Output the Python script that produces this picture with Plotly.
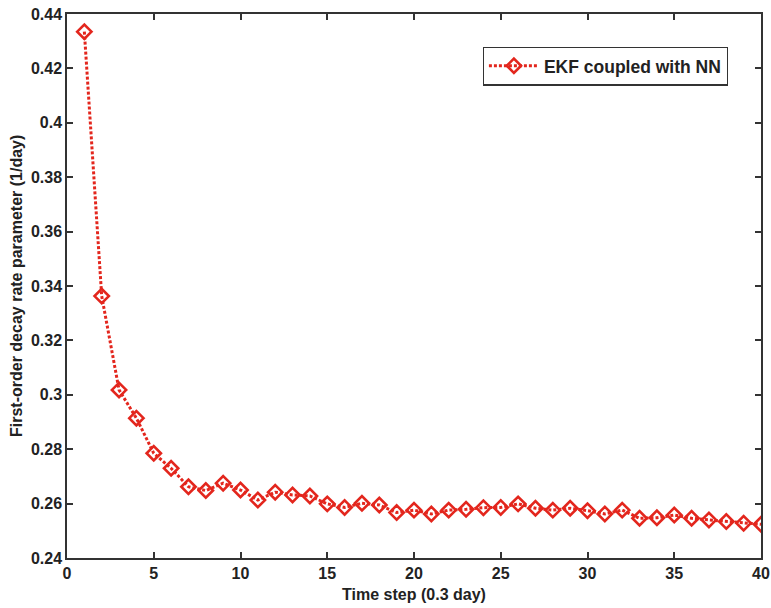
import plotly.graph_objects as go

time_step = list(range(1, 41))
decay_rate = [0.4335, 0.3363, 0.3018, 0.2914, 0.2785, 0.2730, 0.2662, 0.2648, 0.2675, 0.2650,
              0.2613, 0.2642, 0.2632, 0.2628, 0.2599, 0.2586, 0.2601, 0.2595, 0.2567, 0.2576,
              0.2562, 0.2576, 0.2579, 0.2585, 0.2586, 0.2599, 0.2583, 0.2576, 0.2583, 0.2574,
              0.2562, 0.2576, 0.2546, 0.2548, 0.2558, 0.2546, 0.2540, 0.2534, 0.2528, 0.2524]

x_ticks = [0, 5, 10, 15, 20, 25, 30, 35, 40]
y_ticks = [0.24, 0.26, 0.28, 0.30, 0.32, 0.34, 0.36, 0.38, 0.40, 0.42, 0.44]
y_tick_labels = ["0.24", "0.26", "0.28", "0.3", "0.32", "0.34", "0.36", "0.38", "0.4", "0.42", "0.44"]

red = "#e3261d"
font_fam = "Liberation Sans, Arial, sans-serif"

fig = go.Figure()
fig.add_trace(go.Scatter(
    x=time_step, y=decay_rate, mode="lines+markers", name="<b>EKF coupled with NN</b>",
    line=dict(color=red, width=3, dash="3px,2px"),
    marker=dict(symbol="diamond-open", size=11, color=red, line=dict(color=red, width=2.6)),
))

axis_common = dict(showline=True, linecolor="#333333", linewidth=1.5, mirror="ticks",
                   ticks="inside", ticklen=6, tickcolor="#333333", tickwidth=1.5,
                   showgrid=False, zeroline=False, automargin=False,
                   tickfont=dict(family=font_fam, size=16, color="#222222"))

fig.update_layout(
    width=771, height=608,
    margin=dict(l=67, r=10, t=14, b=50),
    paper_bgcolor="white", plot_bgcolor="white",
    font=dict(family=font_fam, color="#222222"),
    xaxis=dict(range=[0, 40], tickvals=x_ticks, ticktext=[f"<b>{v}</b>" for v in x_ticks],
               title=dict(text="<b>Time step (0.3 day)</b>", font=dict(size=16), standoff=8),
               **axis_common),
    yaxis=dict(range=[0.24, 0.44], tickvals=y_ticks, ticktext=[f"<b>{t}</b>" for t in y_tick_labels],
               **axis_common),
    legend=dict(x=0.599, y=0.940, xanchor="left", yanchor="top", bordercolor="#333333", borderwidth=1.2,
                bgcolor="white", itemwidth=50,
                font=dict(size=17.5, family=font_fam, color="#222222")),
    showlegend=True,
)

fig.add_annotation(
    text="<b>First-order decay rate parameter (1/day)</b>",
    xref="paper", yref="paper", x=-51 / 694, y=0.5, xanchor="center", yanchor="middle",
    textangle=-90, showarrow=False, font=dict(size=16, family=font_fam, color="#222222"),
)

fig.write_html("out.html", config={"displayModeBar": False},
               post_script="document.body.style.margin='0';")
